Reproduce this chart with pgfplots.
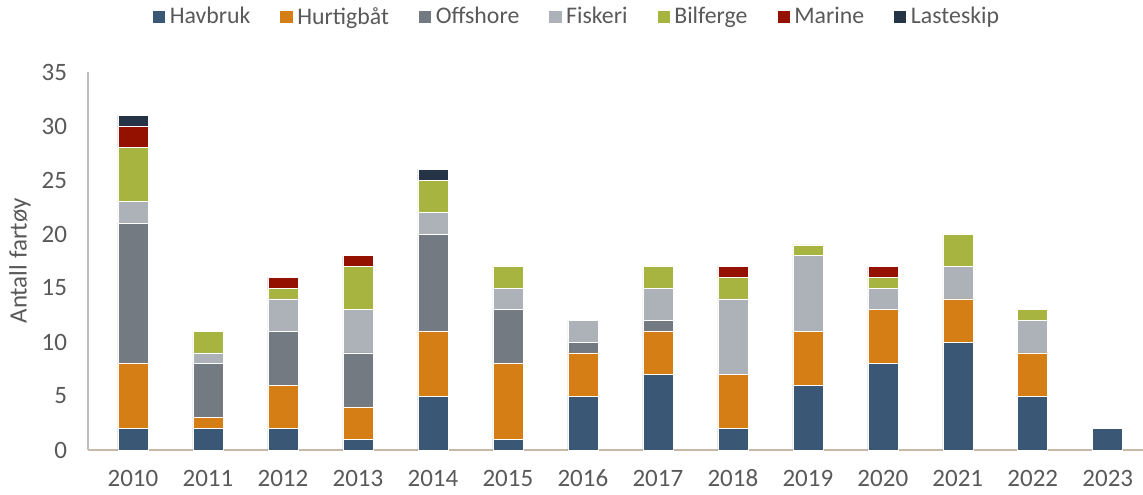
\documentclass[border=0pt]{standalone}
\usepackage{pgfplots}
\pgfplotsset{compat=1.18}
\usepackage{fontspec}
\setmainfont{Carlito}
\definecolor{havbruk}{HTML}{3A5775}
\definecolor{hurtig}{HTML}{D67E16}
\definecolor{offshore}{HTML}{737A81}
\definecolor{fiskeri}{HTML}{ADB2B8}
\definecolor{bilferge}{HTML}{A8B440}
\definecolor{marine}{HTML}{941100}
\definecolor{laste}{HTML}{243346}
\definecolor{txt}{HTML}{595959}
\begin{document}
\begin{tikzpicture}
\begin{axis}[
  at={(44pt,22pt)}, anchor=south west,
  scale only axis, width=527.5pt, height=189pt,
  ybar stacked, bar width=15pt,
  xmin=-0.6, xmax=13.47, ymin=0, ymax=35,
  xtick={0,...,13},
  xticklabels={2010,2011,2012,2013,2014,2015,2016,2017,2018,2019,2020,2021,2022,2023},
  ytick={0,5,...,35},
  major tick length=0pt,
  axis x line*=bottom, axis y line*=left,
  x axis line style={draw=black!40!brown!40, line width=1.2pt, -},
  y axis line style={draw=black!25, line width=0.8pt, -},
  ticklabel style={font=\fontsize{12.5}{14}\selectfont, text=txt},
  /pgf/number format/assume math mode=true,
  xticklabel style={yshift=-6pt, text height=8.5pt, text depth=0pt},
  yticklabel style={xshift=-7pt},
  ylabel={Antall fartøy},
  ylabel style={font=\fontsize{12.5}{14}\selectfont, text=txt, anchor=center, at={(axis description cs:-0.0645,0.5)}},
  every axis plot/.append style={draw=white, line width=0.3pt},
  legend columns=-1,
  legend style={draw=none, fill=none, at={(0.464,1.145)}, anchor=center,
    font=\fontsize{11.9}{13}\selectfont, text=txt,
    /tikz/every even column/.append style={column sep=12.5pt}},
  legend image code/.code={\fill[#1] (0pt,-3.3pt) rectangle (6.6pt,3.3pt);},
]
\addplot[fill=havbruk] coordinates {(0,2) (1,2) (2,2) (3,1) (4,5) (5,1) (6,5) (7,7) (8,2) (9,6) (10,8) (11,10) (12,5) (13,2)};
\addplot[fill=hurtig] coordinates {(0,6) (1,1) (2,4) (3,3) (4,6) (5,7) (6,4) (7,4) (8,5) (9,5) (10,5) (11,4) (12,4) (13,0)};
\addplot[fill=offshore] coordinates {(0,13) (1,5) (2,5) (3,5) (4,9) (5,5) (6,1) (7,1) (8,0) (9,0) (10,0) (11,0) (12,0) (13,0)};
\addplot[fill=fiskeri] coordinates {(0,2) (1,1) (2,3) (3,4) (4,2) (5,2) (6,2) (7,3) (8,7) (9,7) (10,2) (11,3) (12,3) (13,0)};
\addplot[fill=bilferge] coordinates {(0,5) (1,2) (2,1) (3,4) (4,3) (5,2) (6,0) (7,2) (8,2) (9,1) (10,1) (11,3) (12,1) (13,0)};
\addplot[fill=marine] coordinates {(0,2) (1,0) (2,1) (3,1) (4,0) (5,0) (6,0) (7,0) (8,1) (9,0) (10,1) (11,0) (12,0) (13,0)};
\addplot[fill=laste] coordinates {(0,1) (1,0) (2,0) (3,0) (4,1) (5,0) (6,0) (7,0) (8,0) (9,0) (10,0) (11,0) (12,0) (13,0)};
\legend{Havbruk,Hurtigbåt,Offshore,Fiskeri,Bilferge,Marine,Lasteskip}
\end{axis}
\pgfresetboundingbox
\path (0,0) rectangle (571.5pt,247pt);
\end{tikzpicture}
\end{document}
